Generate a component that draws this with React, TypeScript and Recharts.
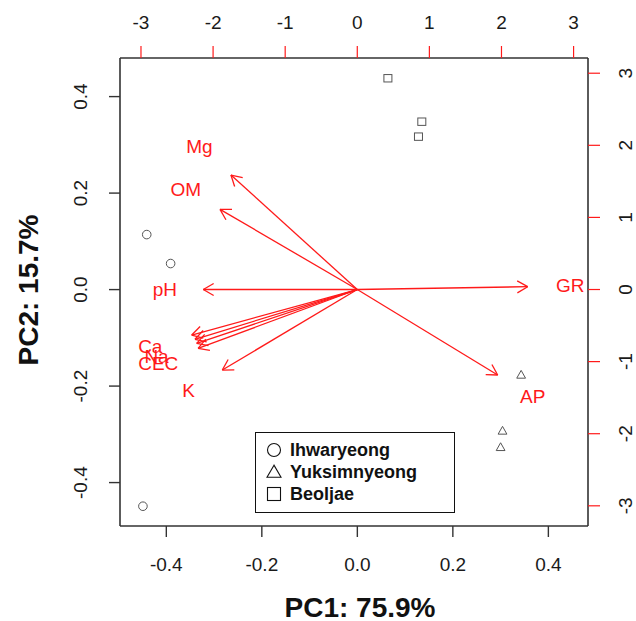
import React from 'react';
import { ComposedChart, Scatter, XAxis, YAxis, ReferenceLine, Legend } from 'recharts';

// ---------- data ----------
const groupNames = ['Ihwaryeong', 'Yuksimnyeong', 'Beoljae'];

const ihwaryeong = [
  { pc1: -0.441, pc2: 0.114 },
  { pc1: -0.391, pc2: 0.054 },
  { pc1: -0.449, pc2: -0.449 },
];
const yuksimnyeong = [
  { pc1: 0.343, pc2: -0.177 },
  { pc1: 0.304, pc2: -0.293 },
  { pc1: 0.3, pc2: -0.327 },
];
const beoljae = [
  { pc1: 0.064, pc2: 0.438 },
  { pc1: 0.135, pc2: 0.348 },
  { pc1: 0.128, pc2: 0.317 },
];

const variableNames = ['GR', 'AP', 'Mg', 'OM', 'pH', 'K', 'Ca', '', 'Na', 'CEC'];
const loadingPC1 = [2.954, 2.434, -2.19, -2.38, -2.67, -2.34, -2.871, -2.814, -2.784, -2.76];
const loadingPC2 = [0.049, -1.482, 1.985, 1.39, 0.0, -1.396, -0.789, -0.863, -0.933, -1.02];
const arrowShrink = 0.8;

const scoreTicks = [-0.4, -0.2, 0, 0.2, 0.4];
const loadingTicks = [-3, -2, -1, 0, 1, 2, 3];
const pc1Title = 'PC1: 75.9%';
const pc2Title = 'PC2: 15.7%';

const loadingLabels = variableNames.map((name, i) => ({ x: loadingPC1[i], y: loadingPC2[i], name }));
const arrowTips = variableNames.map((name, i) => ({ x: loadingPC1[i] * arrowShrink, y: loadingPC2[i] * arrowShrink, name }));

// ---------- styles ----------
const FONT = '"Liberation Sans", Arial, Helvetica, sans-serif';
const RED = '#ff1a1a';
const TICK_FS = 19;
const POINT = '#555';

const BottomTick = (p: any) => (
  <text x={p.x} y={p.y} textAnchor="middle" dominantBaseline="central" fontSize={TICK_FS} fontFamily={FONT} fill="#1a1a1a">
    {Number(p.payload.value).toFixed(1)}
  </text>
);
const TopTick = (p: any) => (
  <text x={p.x} y={p.y} textAnchor="middle" dominantBaseline="central" fontSize={TICK_FS} fontFamily={FONT} fill="#1a1a1a">
    {String(p.payload.value)}
  </text>
);
const LeftTick = (p: any) => (
  <text x={p.x} y={p.y} textAnchor="middle" dominantBaseline="central" fontSize={TICK_FS} fontFamily={FONT} fill="#1a1a1a" transform={`rotate(-90, ${p.x}, ${p.y})`}>
    {Number(p.payload.value).toFixed(1)}
  </text>
);
const RightTick = (p: any) => (
  <text x={p.x} y={p.y} textAnchor="middle" dominantBaseline="central" fontSize={TICK_FS} fontFamily={FONT} fill="#1a1a1a" transform={`rotate(-90, ${p.x}, ${p.y})`}>
    {String(p.payload.value)}
  </text>
);

const XTitle = (p: any) => {
  const vb = p.viewBox || {};
  const cx = vb.x + vb.width / 2 + 6;
  return (
    <text x={cx} y={607} textAnchor="middle" dominantBaseline="central" fontSize={28} fontWeight="bold" fontFamily={FONT} fill="#111">
      {pc1Title}
    </text>
  );
};
const YTitle = (p: any) => {
  const vb = p.viewBox || {};
  const cy = vb.y + vb.height / 2 - 2;
  return (
    <text x={28} y={cy} textAnchor="middle" dominantBaseline="central" fontSize={28} fontWeight="bold" fontFamily={FONT} fill="#111" transform={`rotate(-90, 28, ${cy})`}>
      {pc2Title}
    </text>
  );
};

const CircleShape = (p: any) => <circle cx={p.cx} cy={p.cy} r={4.3} fill="none" stroke={POINT} strokeWidth={1} />;
const TriangleShape = (p: any) => (
  <polygon points={`${p.cx},${p.cy - 4.6} ${p.cx - 4.4},${p.cy + 3.2} ${p.cx + 4.4},${p.cy + 3.2}`} fill="none" stroke={POINT} strokeWidth={1} />
);
const SquareShape = (p: any) => <rect x={p.cx - 4} y={p.cy - 3.7} width={8} height={7.4} fill="none" stroke={POINT} strokeWidth={1} />;

const LabelShape = (p: any) => (
  <text x={p.cx} y={p.cy} textAnchor="middle" dominantBaseline="central" fontSize={19} fontFamily={FONT} fill={RED}>
    {p.payload?.name}
  </text>
);

const ArrowShape = (p: any) => {
  const { x1, y1, x2, y2 } = p;
  if ([x1, y1, x2, y2].some((v) => v === undefined || Number.isNaN(v))) return null;
  const th = Math.atan2(y2 - y1, x2 - x1);
  const L = 12;
  const a = Math.PI / 6;
  const hx1 = x2 - L * Math.cos(th - a);
  const hy1 = y2 - L * Math.sin(th - a);
  const hx2 = x2 - L * Math.cos(th + a);
  const hy2 = y2 - L * Math.sin(th + a);
  return (
    <g stroke={RED} strokeWidth={1.3} fill="none">
      <line x1={x1} y1={y1} x2={x2} y2={y2} />
      <line x1={x2} y1={y2} x2={hx1} y2={hy1} />
      <line x1={x2} y1={y2} x2={hx2} y2={hy2} />
    </g>
  );
};

const LegendIcon = ({ kind }: { kind: number }) => (
  <svg width={16} height={16} style={{ display: 'block' }}>
    {kind === 0 && <circle cx={8} cy={8} r={6.5} fill="none" stroke="#111" strokeWidth={1.1} />}
    {kind === 1 && <polygon points="8,1.2 1,13.2 15,13.2" fill="none" stroke="#111" strokeWidth={1.1} />}
    {kind === 2 && <rect x={1.5} y={1.5} width={13} height={13} fill="none" stroke="#111" strokeWidth={1.1} />}
  </svg>
);

const LegendBox = () => (
  <div
    style={{
      boxSizing: 'border-box',
      width: 200,
      height: 81,
      border: '1.5px solid #111',
      background: '#fff',
      paddingTop: 6,
      fontFamily: FONT,
    }}
  >
    {groupNames.map((g, i) => (
      <div key={g} style={{ display: 'flex', alignItems: 'center', height: 22 }}>
        <div style={{ marginLeft: 10 }}>
          <LegendIcon kind={i} />
        </div>
        <span style={{ marginLeft: 8, fontSize: 18, fontWeight: 'bold', color: '#111', lineHeight: '22px' }}>{g}</span>
      </div>
    ))}
  </div>
);

export default function App() {
  const shapes = [CircleShape, TriangleShape, SquareShape];
  const groups = [ihwaryeong, yuksimnyeong, beoljae];
  return (
    <div style={{ position: 'absolute', left: 0, top: 0, width: 636, height: 621, background: '#fff' }}>
      <ComposedChart width={636} height={621} margin={{ top: 0, right: 0, bottom: 0, left: 0 }}>
        <XAxis
          xAxisId="score"
          dataKey="pc1"
          type="number"
          orientation="bottom"
          domain={[-0.497, 0.483]}
          ticks={scoreTicks}
          allowDataOverflow
          height={95}
          tickSize={11}
          tickMargin={27}
          tick={<BottomTick />}
          axisLine={{ stroke: '#333', strokeWidth: 1.6 }}
          tickLine={{ stroke: '#333', strokeWidth: 1.4 }}
          label={<XTitle />}
        />
        <XAxis
          xAxisId="load"
          dataKey="x"
          type="number"
          orientation="top"
          domain={[-3.291, 3.2]}
          ticks={loadingTicks}
          allowDataOverflow
          height={58}
          tickSize={12}
          tickMargin={24}
          tick={<TopTick />}
          axisLine={{ stroke: '#333', strokeWidth: 1.6 }}
          tickLine={{ stroke: RED, strokeWidth: 1.2 }}
        />
        <YAxis
          yAxisId="score"
          dataKey="pc2"
          type="number"
          orientation="left"
          domain={[-0.49, 0.48]}
          ticks={scoreTicks}
          allowDataOverflow
          width={120}
          tickSize={11}
          tickMargin={28}
          tick={<LeftTick />}
          axisLine={{ stroke: '#333', strokeWidth: 1.6 }}
          tickLine={{ stroke: '#333', strokeWidth: 1.4 }}
          label={<YTitle />}
        />
        <YAxis
          yAxisId="load"
          dataKey="y"
          type="number"
          orientation="right"
          domain={[-3.28, 3.211]}
          ticks={loadingTicks}
          allowDataOverflow
          width={48}
          tickSize={12}
          tickMargin={26}
          tick={<RightTick />}
          axisLine={{ stroke: '#333', strokeWidth: 1.6 }}
          tickLine={{ stroke: RED, strokeWidth: 1.2 }}
        />

        {arrowTips.map((t, i) => (
          <ReferenceLine
            key={`arrow-${i}`}
            xAxisId="load"
            yAxisId="load"
            segment={[
              { x: 0, y: 0 },
              { x: t.x, y: t.y },
            ]}
            ifOverflow="visible"
            shape={ArrowShape}
          />
        ))}

        <Scatter
          name="variables"
          data={loadingLabels}
          xAxisId="load"
          yAxisId="load"
          dataKey="y"
          shape={LabelShape}
          isAnimationActive={false}
          legendType="none"
        />

        {groups.map((g, i) => (
          <Scatter
            key={groupNames[i]}
            name={groupNames[i]}
            data={g}
            xAxisId="score"
            yAxisId="score"
            dataKey="pc2"
            shape={shapes[i]}
            isAnimationActive={false}
          />
        ))}

        <Legend
          layout="vertical"
          align="center"
          verticalAlign="middle"
          wrapperStyle={{ left: 255, top: 432, width: 200, height: 81 }}
          content={() => <LegendBox />}
        />
      </ComposedChart>
    </div>
  );
}
